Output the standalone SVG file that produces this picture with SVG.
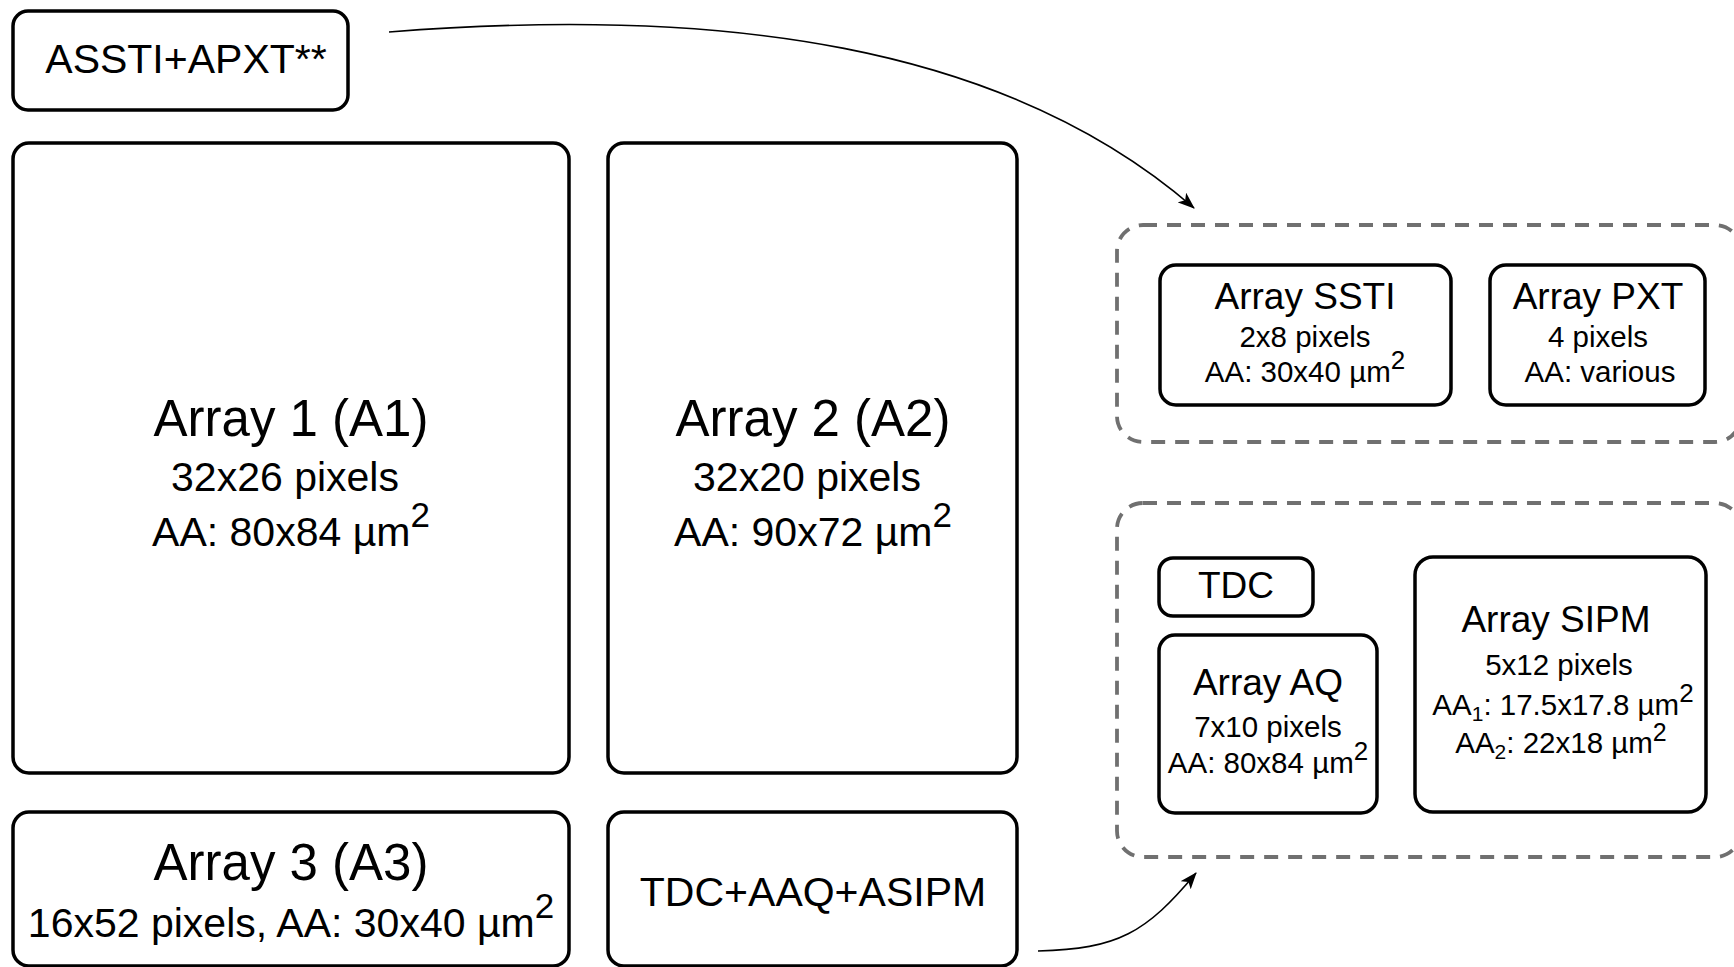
<svg xmlns="http://www.w3.org/2000/svg" width="1734" height="967" viewBox="0 0 1734 967">
<defs>
<style>
.box{fill:#fff;stroke:#000;stroke-width:3.5}
.grp{fill:none;stroke:#707070;stroke-width:3.8;stroke-dasharray:14 10}
.t{font-family:"Liberation Sans",Arial,sans-serif;fill:#000;text-anchor:middle}
.big{font-size:51px}
.mid{font-size:41px}
.hd{font-size:37px}
.sm{font-size:29.5px}
.con{fill:none;stroke:#000;stroke-width:1.6}
</style>
<marker id="arr" viewBox="0 0 16 12" refX="15" refY="6" markerWidth="17" markerHeight="13" markerUnits="userSpaceOnUse" orient="auto">
<path d="M0,0 L16,6 L0,12 L4,6 z" fill="#000"/>
</marker>
</defs>
<rect width="1734" height="967" fill="#fff"/>

<g id="group-ssti-pxt">
<rect class="grp" x="1117" y="225" width="624" height="217" rx="26"/>
</g>
<g id="group-tdc-aq-sipm">
<rect class="grp" x="1117" y="503" width="624" height="354" rx="26"/>
</g>

<g id="node-assti">
<rect class="box" x="13" y="11" width="335" height="99" rx="15"/>
<text class="t mid" x="186" y="73">ASSTI+APXT**</text>
</g>

<g id="node-a1">
<rect class="box" x="13" y="143" width="556" height="630" rx="16"/>
<text class="t big" x="291" y="436">Array 1 (A1)</text>
<text class="t mid" x="285" y="491">32x26 pixels</text>
<text class="t mid" x="291" y="546">AA: 80x84 µm<tspan font-size="35" dy="-19">2</tspan></text>
</g>

<g id="node-a2">
<rect class="box" x="608" y="143" width="409" height="630" rx="16"/>
<text class="t big" x="813" y="436">Array 2 (A2)</text>
<text class="t mid" x="807" y="491">32x20 pixels</text>
<text class="t mid" x="813" y="546">AA: 90x72 µm<tspan font-size="35" dy="-19">2</tspan></text>
</g>

<g id="node-a3">
<rect class="box" x="13" y="812" width="556" height="154" rx="16"/>
<text class="t big" x="291" y="880">Array 3 (A3)</text>
<text class="t mid" x="291" y="937">16x52 pixels, AA: 30x40 µm<tspan font-size="35" dy="-19">2</tspan></text>
</g>

<g id="node-tdc-aaq-asipm">
<rect class="box" x="608" y="812" width="409" height="154" rx="16"/>
<text class="t mid" x="813" y="906">TDC+AAQ+ASIPM</text>
</g>

<g id="node-ssti">
<rect class="box" x="1160" y="265" width="291" height="140" rx="16"/>
<text class="t hd" x="1305" y="309">Array SSTI</text>
<text class="t sm" x="1305" y="347">2x8 pixels</text>
<text class="t sm" x="1305" y="382">AA: 30x40 µm<tspan font-size="26" dy="-13">2</tspan></text>
</g>

<g id="node-pxt">
<rect class="box" x="1490" y="265" width="215" height="140" rx="16"/>
<text class="t hd" x="1598" y="309">Array PXT</text>
<text class="t sm" x="1598" y="347">4 pixels</text>
<text class="t sm" x="1600" y="382">AA: various</text>
</g>

<g id="node-tdc">
<rect class="box" x="1159" y="558" width="154" height="58" rx="14"/>
<text class="t hd" x="1236" y="598">TDC</text>
</g>

<g id="node-aq">
<rect class="box" x="1159" y="635" width="218" height="178" rx="16"/>
<text class="t hd" x="1268" y="695">Array AQ</text>
<text class="t sm" x="1268" y="737">7x10 pixels</text>
<text class="t sm" x="1268" y="773">AA: 80x84 µm<tspan font-size="26" dy="-13">2</tspan></text>
</g>

<g id="node-sipm">
<rect class="box" x="1415" y="557" width="291" height="255" rx="18"/>
<text class="t hd" x="1556" y="632">Array SIPM</text>
<text class="t sm" x="1559" y="675">5x12 pixels</text>
<text class="t sm" x="1563" y="715">AA<tspan font-size="21" dy="6">1</tspan><tspan dy="-6">: 17.5x17.8 µm</tspan><tspan font-size="26" dy="-13">2</tspan></text>
<text class="t sm" x="1561" y="753">AA<tspan font-size="21" dy="6">2</tspan><tspan dy="-6">: 22x18 µm</tspan><tspan font-size="25" dy="-12">2</tspan></text>
</g>

<g id="connectors">
<path class="con" d="M389,32 C719,6 1004,43 1194,208" marker-end="url(#arr)"/>
<path class="con" d="M1038,951 C1118,949 1146,933 1196,873" marker-end="url(#arr)"/>
</g>
</svg>
